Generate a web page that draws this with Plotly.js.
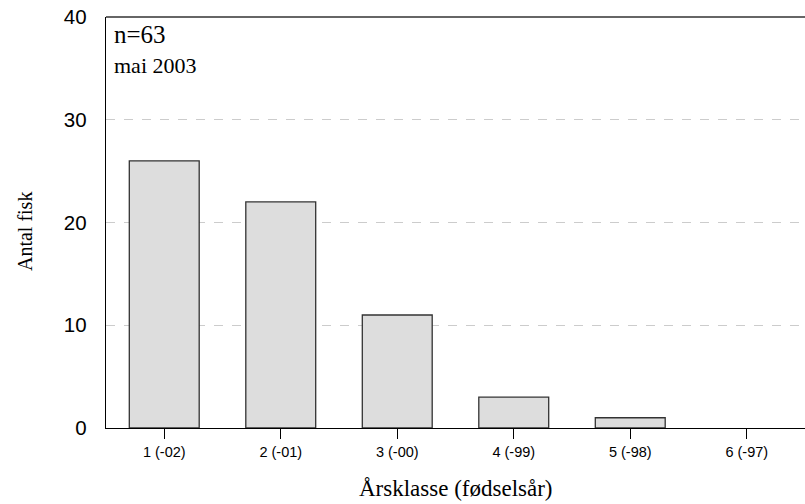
<!DOCTYPE html>
<html><head><meta charset="utf-8">
<script src="https://cdn.plot.ly/plotly-3.0.1.min.js"></script>
<style>html,body{margin:0;padding:0;background:#fff}</style>
</head><body>
<div id="chart" style="width:805px;height:504px"></div>
<script>
const categories = ["1 (-02)", "2 (-01)", "3 (-00)", "4 (-99)", "5 (-98)", "6 (-97)"];
const counts = [26, 22, 11, 3, 1, 0];
const yTicks = [0, 10, 20, 30, 40];
const sampleText = "n=63";
const dateText = "mai 2003";
const xTitle = "Årsklasse (fødselsår)";
const yTitle = "Antal fisk";

const serif = "Times New Roman, Liberation Serif, serif";
const sans = "Arial, Liberation Sans, sans-serif";

const trace = {
  type: "bar",
  x: categories,
  y: counts,
  width: 0.6,
  marker: {color: "#dddddd", line: {color: "#333333", width: counts.map(v => v > 0 ? 1.3 : 0)}},
  hoverinfo: "x+y"
};

const layout = {
  width: 805, height: 504,
  margin: {l: 106, r: 0, t: 17, b: 76},
  paper_bgcolor: "#fff", plot_bgcolor: "#fff",
  showlegend: false,
  xaxis: {
    type: "category",
    range: [-0.5, 5.5],
    showline: true, linecolor: "#000", linewidth: 1.3,
    ticks: "outside", ticklen: 10, tickcolor: "#000", tickwidth: 1,
    tickfont: {family: sans, size: 14.5, color: "#000"},
    showgrid: false, zeroline: false
  },
  yaxis: {
    range: [0, 40],
    tickvals: yTicks,
    showline: true, linecolor: "#000", linewidth: 1.3,
    ticks: "", ticklabelstandoff: 14,
    tickfont: {family: sans, size: 20.5, color: "#000"},
    showgrid: true, gridcolor: "#cccccc", griddash: "dash", gridwidth: 1,
    zeroline: false
  },
  shapes: [
    {type: "line", xref: "paper", yref: "paper", x0: 0, x1: 1, y0: 1, y1: 1, line: {color: "#333", width: 1.5}}
  ],
  annotations: [
    {text: sampleText, xref: "paper", yref: "paper", x: 0.008, y: 0.995, xanchor: "left", yanchor: "top", showarrow: false,
     font: {family: serif, size: 25, color: "#000"}},
    {text: dateText, xref: "paper", yref: "paper", x: 0.008, y: 0.917, xanchor: "left", yanchor: "top", showarrow: false,
     font: {family: serif, size: 22, color: "#000"}},
    {text: xTitle, xref: "paper", yref: "paper", x: 0.5, y: -0.111, xanchor: "center", yanchor: "top", showarrow: false,
     font: {family: serif, size: 23, color: "#000"}},
    {text: yTitle, xref: "paper", yref: "paper", x: -0.116, y: 0.479, xanchor: "center", yanchor: "middle", showarrow: false,
     textangle: -90, font: {family: serif, size: 20, color: "#000"}}
  ]
};

Plotly.newPlot("chart", [trace], layout, {displayModeBar: false, staticPlot: true});
</script>
</body></html>
